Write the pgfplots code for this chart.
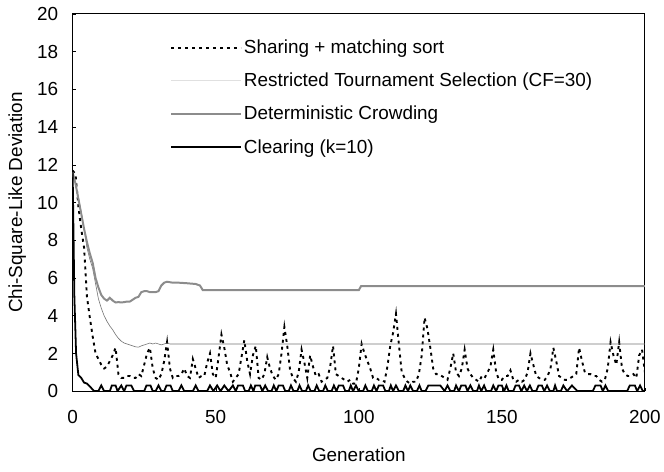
\documentclass[border=0pt]{standalone}
\usepackage{fontspec}
\setmainfont{Liberation Sans}
\usepackage{pgfplots}
\pgfplotsset{compat=1.18}
\begin{document}
\begin{tikzpicture}
\begin{axis}[
  scale only axis, width=575pt, height=379pt,
  xmin=0, xmax=200, ymin=0, ymax=20,
  xtick={0,50,100,150,200}, ytick={0,2,...,20},
  /pgf/number format/assume math mode=true,
  tick align=inside, major tick length=3pt,
  xtick pos=bottom, ytick pos=left,
  tick style={black, thin},
  axis line style={black, line width=1pt},
  every tick label/.append style={font=\fontsize{19}{22}\selectfont},
  xticklabel style={yshift=-16pt},
  yticklabel style={xshift=-11pt},
  xlabel={Generation}, ylabel={Chi-Square-Like Deviation},
  label style={font=\fontsize{19}{22}\selectfont},
  xlabel style={at={(axis description cs:0.5,-0.168)}, anchor=center},
  ylabel style={at={(axis description cs:-0.097,0.5)}, anchor=center},
  legend image code/.code={\draw[#1] (0pt,0pt) -- (70pt,0pt);},
  legend style={at={(rel axis cs:0.165,0.942)}, anchor=north west, draw=none, fill=none,
     font=\fontsize{19}{22}\selectfont, row sep=14pt, cells={anchor=west}},
  legend cell align=left,
]
% Sharing + matching sort
\addplot[black, line width=1.9pt, dash pattern=on 3pt off 4pt] coordinates {
(0,11.7)(1,11.5)(2,9.8)(3,8.6)(4,7.6)(5,5.0)(6,3.9)(7,2.9)(8,2.0)(9,1.7)(10,1.4)
(11,1.2)(12,1.3)(13,1.6)(14,1.9)(15,2.3)(16,0.9)(17,0.7)(18,0.7)(19,0.8)(20,0.8)
(21,0.7)(22,0.7)(23,0.9)(24,0.8)(25,1.4)(26,2.0)(27,2.3)(28,1.2)(29,0.7)(30,0.6)
(31,0.9)(32,1.6)(33,2.6)(34,1.2)(35,0.7)(36,0.8)(37,0.8)(38,0.9)(39,1.2)(40,0.8)
(41,0.7)(42,1.7)(43,1.2)(44,0.7)(45,0.8)(46,0.8)(47,1.5)(48,2.0)(49,0.9)(50,0.7)
(51,1.8)(52,3.0)(53,2.3)(54,1.4)(55,1.0)(56,0.5)(57,0.7)(58,0.9)(59,1.8)(60,2.7)
(61,1.6)(62,0.9)(63,1.9)(64,2.4)(65,0.7)(66,0.6)(67,0.9)(68,1.8)(69,1.2)(70,0.8)
(71,0.6)(72,0.9)(73,2.0)(74,3.4)(75,2.4)(76,1.1)(77,0.7)(78,0.5)(79,1.0)(80,2.2)
(81,1.5)(82,0.7)(83,1.9)(84,1.3)(85,0.8)(86,0.9)(87,0.5)(88,0.6)(89,0.7)(90,1.3)
(91,2.4)(92,0.9)(93,0.8)(94,0.7)(95,0.6)(96,0.5)(97,0.6)(98,0.4)(99,0.4)(100,1.2)
(101,2.5)(102,2.0)(103,1.6)(104,1.2)(105,0.7)(106,0.7)(107,0.6)(108,0.6)(109,0.5)(110,1.3)
(111,2.4)(112,3.1)(113,4.1)(114,2.5)(115,1.0)(116,0.7)(117,0.5)(118,0.4)(119,0.5)(120,0.5)
(121,0.9)(122,1.9)(123,3.9)(124,3.3)(125,2.3)(126,1.2)(127,0.9)(128,0.9)(129,0.8)(130,0.7)
(131,0.6)(132,1.2)(133,2.0)(134,1.0)(135,0.8)(136,1.2)(137,2.2)(138,1.2)(139,0.9)(140,0.7)
(141,0.6)(142,0.5)(143,0.8)(144,0.7)(145,1.0)(146,1.3)(147,2.2)(148,1.0)(149,0.6)(150,0.6)
(151,0.8)(152,0.8)(153,1.1)(154,0.6)(155,0.5)(156,0.6)(157,0.5)(158,0.6)(159,1.0)(160,2.0)
(161,1.4)(162,0.8)(163,0.7)(164,0.6)(165,0.6)(166,0.8)(167,1.2)(168,2.3)(169,1.6)(170,0.8)
(171,0.7)(172,0.6)(173,0.6)(174,0.7)(175,0.8)(176,0.9)(177,2.3)(178,1.6)(179,1.0)(180,0.9)
(181,0.9)(182,0.8)(183,0.8)(184,0.6)(185,0.5)(186,0.6)(187,1.2)(188,2.6)(189,1.9)(190,1.4)
(191,2.6)(192,1.2)(193,0.9)(194,0.8)(195,0.8)(196,0.9)(197,0.7)(198,1.9)(199,2.2)(200,1.0)
};
\addlegendentry{Sharing + matching sort}
% Restricted Tournament Selection
\addplot[black!55, line width=0.6pt, legend image post style={black!12}] coordinates {
(0,11.6)(1,11.0)(2,10.3)(3,9.5)(4,8.6)(5,7.6)(6,7.0)(7,6.5)(8,5.7)(9,4.9)(10,4.4)
(11,4.0)(12,3.7)(13,3.45)(14,3.25)(15,3.0)(16,2.8)(17,2.65)(18,2.55)(19,2.5)(20,2.45)
(21,2.4)(22,2.35)(23,2.33)(24,2.4)(25,2.45)(26,2.5)(27,2.55)(28,2.5)(29,2.55)(30,2.5)
(31,2.45)(32,2.5)(33,2.55)(34,2.5)(200,2.5)
};
\addlegendentry{Restricted Tournament Selection (CF=30)}
% Deterministic Crowding
\addplot[black!45, line width=2pt] coordinates {
(0,11.6)(1,11.0)(2,10.2)(3,9.4)(4,8.6)(5,7.9)(6,7.3)(7,6.8)(8,6.0)(9,5.5)(10,5.1)
(11,4.9)(12,4.8)(13,4.95)(14,4.8)(15,4.7)(16,4.72)(17,4.7)(18,4.72)(19,4.75)(20,4.75)
(21,4.85)(22,4.95)(23,5.0)(24,5.25)(25,5.3)(26,5.3)(27,5.25)(28,5.25)(29,5.25)(30,5.3)
(31,5.6)(32,5.75)(33,5.8)(35,5.75)(37,5.75)(40,5.72)(43,5.68)(44.5,5.6)(45.5,5.35)
(100,5.35)(100.8,5.57)(200,5.57)
};
\addlegendentry{Deterministic Crowding}
% Clearing
\addplot[black, line width=1.8pt] coordinates {
(0,11.6)(0.6,5)(1.2,2.0)(2,0.85)(3,0.7)(4,0.45)(5,0.4)(6,0.25)(7.5,0)
(9,0)(10,0.3)(11,0)
(13,0)(13.7,0.3)(15,0.3)(15.7,0)(17,0.3)(18,0)(18.8,0.3)(20.5,0.3)(21.5,0)
(25,0)(25.8,0.3)(27.2,0.3)(28,0)(29,0)(30,0.3)(31,0)(32,0)(32.8,0.3)(34.2,0.3)(35,0)
(37,0)(38,0.3)(39,0)
(42,0)(43,0.3)(44,0)
(47,0)(48,0.3)(49.2,0)(50.5,0.3)(51.7,0)(53,0.3)(54.5,0)(56,0.3)(57,0)(57.8,0.3)(59.5,0.3)(60.3,0)(61.5,0)(62.3,0.3)(63.2,0)(63.8,0.3)(65.5,0.3)(66.3,0)(67.3,0.3)(68.3,0)
(69.5,0)(70.3,0.3)(71.2,0)(72,0.3)(73.5,0.3)(74.3,0)
(75.5,0)(76.3,0.3)(77.2,0)
(78.5,0)(79.3,0.3)(80.2,0)
(81.5,0)(82.3,0.3)(83.2,0)
(84.5,0)(85.3,0.3)(86.2,0)
(87.5,0)(88.3,0.3)(89.2,0)
(90.5,0)(91.3,0.3)(92.2,0)(93,0.3)(94.5,0.3)(95.3,0)
(96.5,0)(97.2,0.3)(98,0)(99,0.3)(100,0)
(101.5,0)(102.3,0.3)(103.2,0)
(104.5,0)(105.3,0.3)(106.2,0)(107,0.3)(108.5,0.3)(109.3,0)
(110.5,0)(111.2,0.3)(112,0)(113,0.3)(114,0)
(115.5,0)(116.3,0.3)(117.2,0)(118,0.3)(119,0)
(120.3,0)(121.2,0.3)(122,0)(123.3,0)(124.3,0.3)(128.5,0.3)(130,0)(131,0.3)(132,0)
(133.3,0)(134,0.3)(135,0)(135.8,0.3)(137.3,0.3)(138,0)(139,0.3)(140,0)
(141.3,0)(142,0.3)(142.8,0)(143.8,0.3)(144.6,0)
(146.2,0)(147,0.3)(148,0)(148.8,0.3)(150,0.3)(150.8,0)(151.6,0.3)(152.4,0)
(154,0)(154.8,0.3)(156,0.3)(156.8,0)(157.8,0.3)(158.8,0)(159.8,0.3)(160.7,0)
(162,0)(162.8,0.3)(164,0.3)(164.8,0)(165.8,0.3)(166.8,0)
(168,0)(168.6,0.3)(169.3,0)
(170.6,0)(171.5,0.3)(172.8,0)(174.5,0.3)(176.4,0)
(181.8,0)(182.7,0.3)(184.5,0.3)(185.3,0)(186.2,0.3)(187.2,0)
(193.8,0)(194.7,0.3)(196.5,0.3)(197.3,0)(198.3,0.3)(199.3,0)(200,0)
};
\addlegendentry{Clearing (k=10)}
\end{axis}
\path ([shift={(-73pt,-81pt)}]current axis.south west) rectangle ([shift={(16pt,14pt)}]current axis.north east);
\end{tikzpicture}
\end{document}
